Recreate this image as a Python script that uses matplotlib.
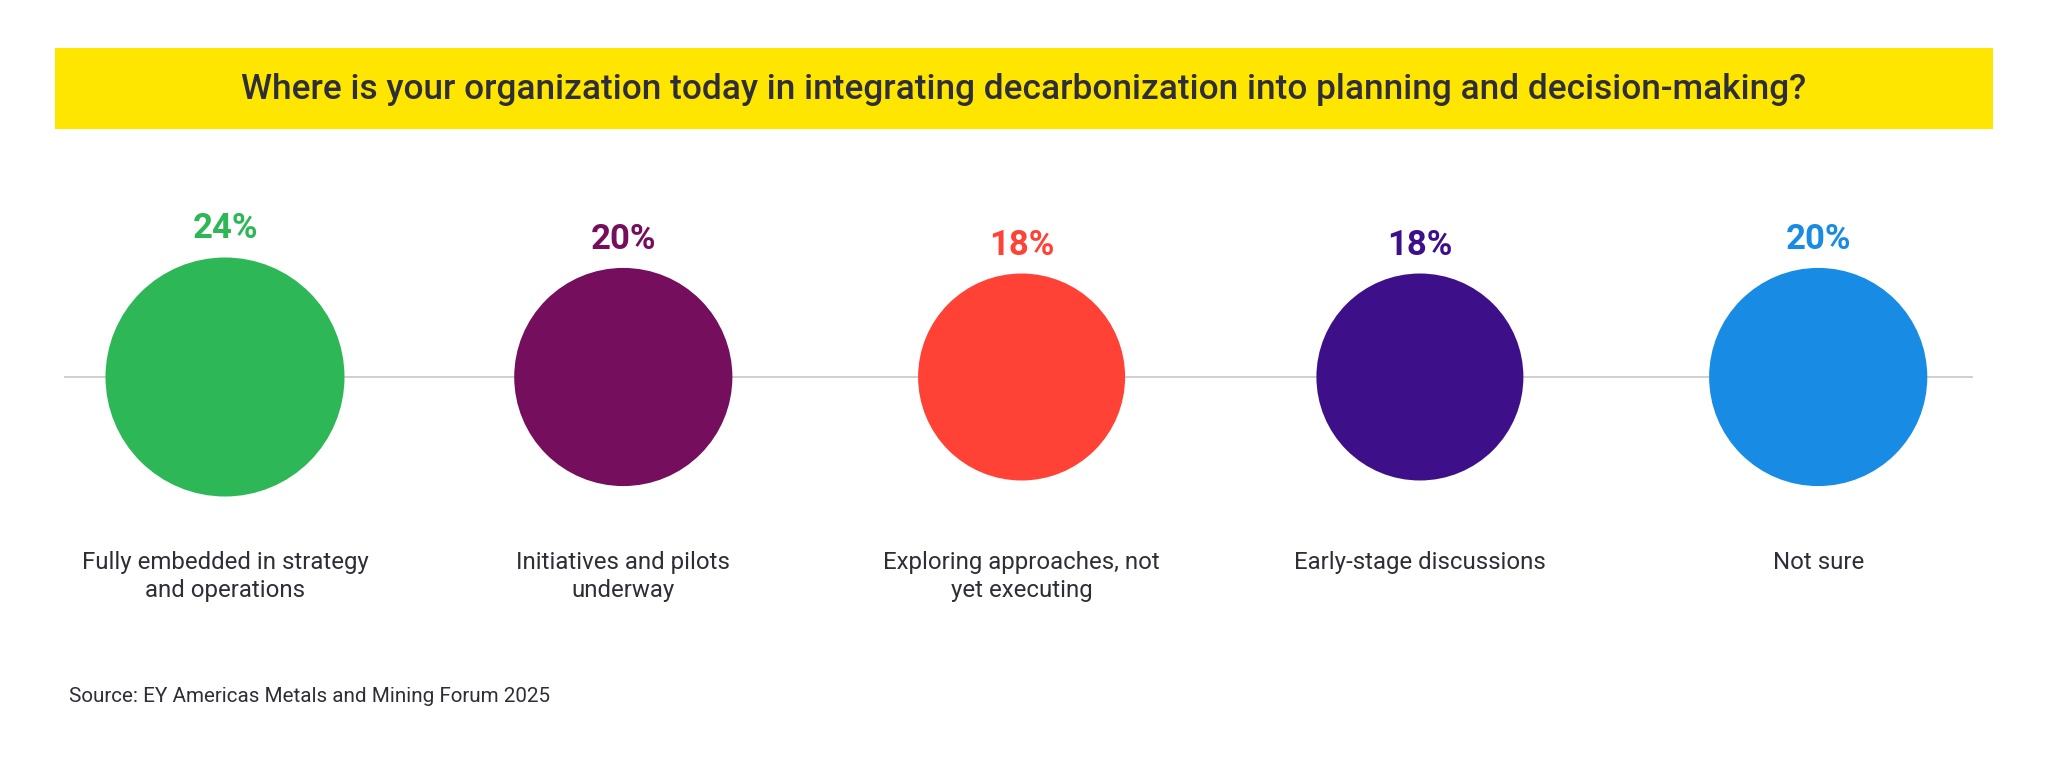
import matplotlib
matplotlib.use("Agg")
import matplotlib.pyplot as plt
from matplotlib.patches import Circle, Rectangle
import numpy as np

title = "Where is your organization today in integrating decarbonization into planning and decision-making?"
categories = ["Fully embedded in strategy\nand operations",
              "Initiatives and pilots\nunderway",
              "Exploring approaches, not\nyet executing",
              "Early-stage discussions",
              "Not sure"]
values = [24, 20, 18, 18, 20]
colors = ["#2DB757", "#750E5C", "#FF4136", "#3D108A", "#188CE5"]
source = "Source: EY Americas Metals and Mining Forum 2025"

FONT = ["Roboto", "DejaVu Sans"]
TXT = "#2E2E38"

W, H = 2048, 768
fig = plt.figure(figsize=(W / 100, H / 100), dpi=100)
ax = fig.add_axes([0, 0, 1, 1])
ax.set_xlim(0, W)
ax.set_ylim(H, 0)
ax.axis("off")

# title band
ax.add_patch(Rectangle((55, 48), 1938, 81, color="#FFE600", lw=0, zorder=1))
ax.text(W / 2, 89, title, ha="center", va="center", fontsize=25.4,
        fontweight="medium", color=TXT, family=FONT, zorder=2)

# baseline
cy = 377
ax.plot([65, 1972], [cy, cy], color="#CCCCCC", lw=1.3, zorder=1)

x0, dx = 225, 398.3
k = 119.5 / np.sqrt(max(values))
for i, (cat, v, c) in enumerate(zip(categories, values, colors)):
    cx = x0 + i * dx
    r = k * np.sqrt(v)
    ax.add_patch(Circle((cx, cy), r, color=c, lw=0, zorder=3))
    ax.text(cx, cy - r - 19, f"{v}%", ha="center", va="baseline", fontsize=25,
            fontweight="bold", color=c, family=FONT, zorder=4)
    ax.text(cx, 551, cat, ha="center", va="top", fontsize=17.3,
            color=TXT, family=FONT, linespacing=1.26, zorder=4)

ax.text(69, 697, source, ha="left", va="center", fontsize=14.9,
        color=TXT, family=FONT)

fig.savefig("out.png", dpi=100, facecolor="white")
